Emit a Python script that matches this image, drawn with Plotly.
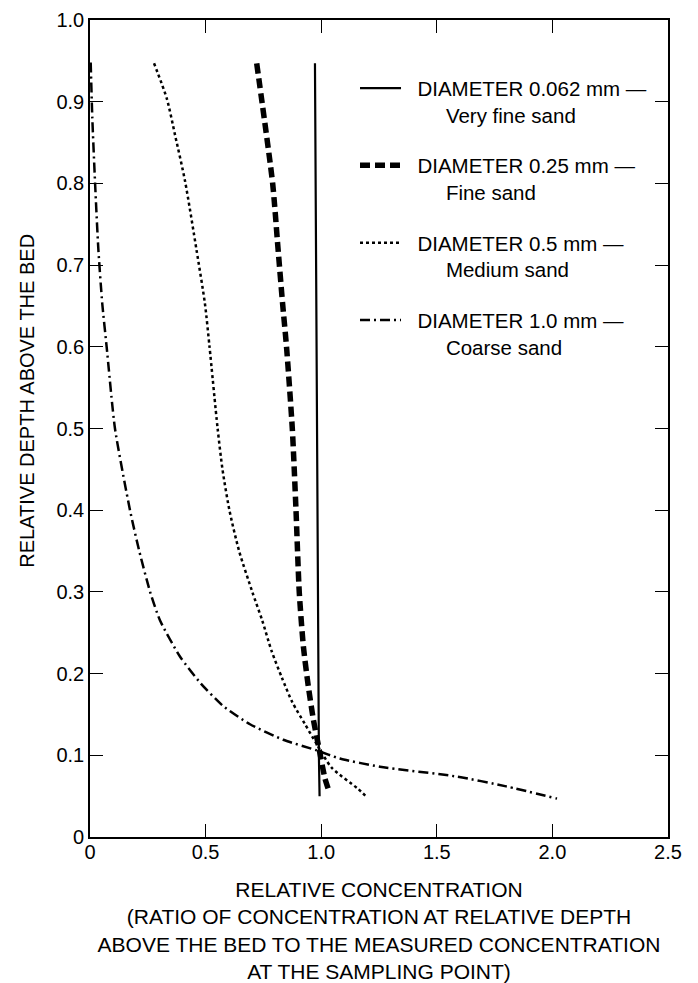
import plotly.graph_objects as go

# ---- data ----
fine_x = [0.973, 0.976, 0.978, 0.981, 0.983, 0.986, 0.988, 0.990, 0.993]
fine_y = [0.947, 0.800, 0.600, 0.450, 0.300, 0.200, 0.150, 0.100, 0.050]

d025_x = [0.721, 0.790, 0.813, 0.833, 0.850, 0.875, 0.891, 0.905, 0.923, 0.944, 0.966, 0.988, 1.016, 1.035]
d025_y = [0.947, 0.800, 0.721, 0.653, 0.600, 0.500, 0.400, 0.300, 0.233, 0.185, 0.144, 0.112, 0.072, 0.055]

d05_x = [0.277, 0.332, 0.368, 0.411, 0.461, 0.497, 0.517, 0.552, 0.573, 0.603, 0.645, 0.702, 0.745, 0.785, 0.830, 0.875, 0.930, 0.980, 1.045, 1.159, 1.197]
d05_y = [0.947, 0.904, 0.859, 0.803, 0.718, 0.653, 0.600, 0.500, 0.450, 0.400, 0.350, 0.300, 0.265, 0.228, 0.195, 0.165, 0.138, 0.114, 0.085, 0.059, 0.049]

d10_x = [0.003, 0.010, 0.022, 0.036, 0.053, 0.072, 0.108, 0.173, 0.213, 0.260, 0.303, 0.389, 0.476, 0.577, 0.692, 0.836, 0.981, 1.081, 1.254, 1.586, 1.800, 2.020]
d10_y = [0.948, 0.880, 0.800, 0.720, 0.653, 0.600, 0.500, 0.400, 0.350, 0.300, 0.265, 0.221, 0.189, 0.160, 0.138, 0.119, 0.106, 0.096, 0.086, 0.074, 0.062, 0.047]

NB = "\u00a0"
names = [
    NB * 2 + "DIAMETER 0.062 mm \u2014<br>" + NB * 7 + "Very fine sand",
    NB * 2 + "DIAMETER 0.25 mm \u2014<br>" + NB * 7 + "Fine sand",
    NB * 2 + "DIAMETER 0.5 mm \u2014<br>" + NB * 7 + "Medium sand",
    NB * 2 + "DIAMETER 1.0 mm \u2014<br>" + NB * 7 + "Coarse sand",
]

x_tickvals = [0, 0.5, 1.0, 1.5, 2.0, 2.5]
x_ticktext = ["0", "0.5", "1.0", "1.5", "2.0", "2.5"]
y_tickvals = [0, 0.1, 0.2, 0.3, 0.4, 0.5, 0.6, 0.7, 0.8, 0.9, 1.0]
y_ticktext = ["0", "0.1", "0.2", "0.3", "0.4", "0.5", "0.6", "0.7", "0.8", "0.9", "1.0"]

FONT = "Liberation Sans, Arial, Helvetica, sans-serif"

fig = go.Figure()
fig.add_trace(go.Scatter(x=fine_x, y=fine_y, mode="lines", name=names[0], legendgroup="a",
                         line=dict(color="black", width=2.2)))
fig.add_trace(go.Scatter(x=d025_x, y=d025_y, mode="lines", name=names[1], legendgroup="b",
                         line=dict(color="black", width=5.5, dash="10px,5px", shape="spline", smoothing=0.6)))
fig.add_trace(go.Scatter(x=d05_x, y=d05_y, mode="lines", name=names[2], legendgroup="c",
                         line=dict(color="black", width=2.5, dash="3px,3px", shape="spline", smoothing=0.7)))
fig.add_trace(go.Scatter(x=d10_x, y=d10_y, mode="lines", name=names[3], legendgroup="d",
                         line=dict(color="black", width=2.5, dash="10px,4px,2px,4px", shape="spline", smoothing=0.6)))

axis_common = dict(
    showline=True, linecolor="black", linewidth=1.6, mirror="ticks",
    ticks="inside", ticklen=13, tickwidth=1.4, tickcolor="black",
    showgrid=False, zeroline=False, automargin=False, ticklabeloverflow="allow",
    tickfont=dict(family=FONT, size=20, color="black"),
)

fig.update_xaxes(range=[0, 2.5], tickvals=x_tickvals, ticktext=x_ticktext, ticklabelstandoff=-4,
                 title=dict(text="RELATIVE CONCENTRATION<br>(RATIO OF CONCENTRATION AT RELATIVE DEPTH<br>"
                                 "ABOVE THE BED TO THE MEASURED CONCENTRATION<br>AT THE SAMPLING POINT)",
                            font=dict(family=FONT, size=21, color="black"), standoff=21),
                 **axis_common)
fig.update_yaxes(range=[0, 1.0], tickvals=y_tickvals, ticktext=y_ticktext, **axis_common)

fig.add_annotation(text="RELATIVE DEPTH ABOVE THE BED", textangle=-90,
                   xref="paper", yref="paper", x=-0.109, y=0.534,
                   xanchor="center", yanchor="middle", showarrow=False,
                   font=dict(family=FONT, size=20, color="black"))

# page body has an 8px default margin, so the figure is 8px smaller and margins compensate
fig.update_layout(
    width=690, height=975,
    margin=dict(l=82, r=30, t=12, b=146, autoexpand=False),
    paper_bgcolor="white", plot_bgcolor="white",
    font=dict(family=FONT, size=20, color="black"),
    showlegend=True,
    legend=dict(x=0.4585, y=0.941, xanchor="left", yanchor="top",
                bgcolor="rgba(0,0,0,0)", borderwidth=0,
                font=dict(family=FONT, size=20.5, color="black"),
                itemwidth=41, valign="top", tracegroupgap=21,
                itemclick=False, itemdoubleclick=False),
)

fig.write_html("out.html")
